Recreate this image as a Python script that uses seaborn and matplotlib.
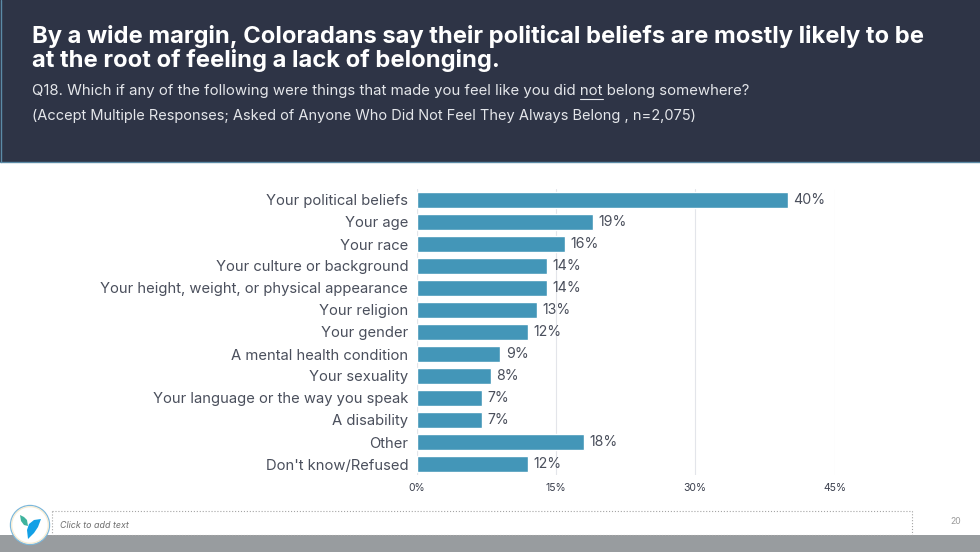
import pandas as pd
import seaborn as sns
import matplotlib.pyplot as plt
from matplotlib.patches import Rectangle, Circle, Polygon

# Chart data
categories = ["Your political beliefs", "Your age", "Your race", "Your culture or background",
              "Your height, weight, or physical appearance", "Your religion", "Your gender",
              "A mental health condition", "Your sexuality", "Your language or the way you speak",
              "A disability", "Other", "Don't know/Refused"]
values = [40, 19, 16, 14, 14, 13, 12, 9, 8, 7, 7, 18, 12]
x_ticks = [0, 15, 30, 45]

title_lines = ["By a wide margin, Coloradans say their political beliefs are mostly likely to be",
               "at the root of feeling a lack of belonging."]
question_start = "Q18. Which if any of the following were things that made you feel like you did "
question_end = "not belong somewhere?"
note = "(Accept Multiple Responses; Asked of Anyone Who Did Not Feel They Always Belong , n=2,075)"

sns.set_theme(style="white")
plt.rcParams['font.family'] = ['Inter', 'DejaVu Sans']

W, H = 980, 552
fig = plt.figure(figsize=(W / 100, H / 100), dpi=100, facecolor="white")

# Full-slide overlay in pixel coordinates for the slide furniture
bg = fig.add_axes([0, 0, 1, 1], zorder=0)
bg.set_xlim(0, W)
bg.set_ylim(H, 0)
bg.axis("off")
bg.add_patch(Rectangle((0, 0), W, 162, fc="#2e3446", ec="none"))
bg.plot([0, W], [162, 162], color="#5b8aa6", lw=1)
bg.plot([0.5, 0.5], [0, 162], color="#5b8aa6", lw=1)
bg.add_patch(Rectangle((0, 535), W, 17, fc="#989c9f", ec="none"))

bg.text(32, 36, title_lines[0], color="white", fontsize=17.1, fontweight="bold", va="center")
bg.text(32, 60, title_lines[1], color="white", fontsize=17.1, fontweight="bold", va="center")
q_text = bg.text(32, 90.5, question_start + question_end, color="#e4e6ea", fontsize=10.75, va="center")
bg.text(32, 116, note, color="#e4e6ea", fontsize=10.5, va="center")

# Underline the word "not" by measuring the text before it
renderer = fig.canvas.get_renderer()
probe = bg.text(32, 90.5, question_start.replace(" ", "\u00a0"), fontsize=10.75, va="center")
not_start = probe.get_window_extent(renderer).x1
probe.set_text("not")
not_width = probe.get_window_extent(renderer).width
probe.remove()
bg.plot([not_start, not_start + not_width], [99, 99], color="#e4e6ea", lw=0.8)

# Footer placeholder and page number
bg.plot([52, 912, 912], [511, 511, 535], color="#a5a5a5", lw=0.8, ls=":")
bg.plot([52, 52], [511, 535], color="#a5a5a5", lw=0.8, ls=":")
bg.plot([52, 912], [535, 535], color="#a5a5a5", lw=0.8, ls=":")
bg.text(60, 525, "Click to add text", color="#6f6f6f", fontsize=6.4, style="italic", va="center")
bg.text(956, 521, "20", color="#9a9a9a", fontsize=6.2, ha="center", va="center")

# Logo
bg.add_patch(Circle((30, 525), 19.5, fc="white", ec="#7db8dc", lw=1, zorder=3))
bg.add_patch(Circle((30, 525), 18.3, fc="none", ec="#f6ecd2", lw=0.9, zorder=3))
bg.add_patch(Polygon([(41, 519), (34, 520), (29, 524), (27, 530), (28, 539), (34, 533), (38, 527)],
                     fc="#12a0e6", ec="none", zorder=4))
bg.add_patch(Polygon([(20, 515), (21, 521), (24, 525), (28, 526), (27, 520), (24, 517)],
                     fc="#3fb39d", ec="none", zorder=4))

# Bar chart
df = pd.DataFrame({"category": categories, "value": values})
ax = fig.add_axes([416.5 / W, 1 - 475 / H, 418 / W, 286 / H], zorder=1)
ax.patch.set_alpha(0)
sns.barplot(data=df, x="value", y="category", color="#4396b8", saturation=1, width=0.7, ax=ax)
ax.set_xlim(0, 45)
ax.set_xticks(x_ticks)
ax.set_xticklabels([f"{t}%" for t in x_ticks], fontsize=7.5, color="#3a3f4d")
ax.tick_params(axis="x", length=0, pad=6)
ax.tick_params(axis="y", length=0, pad=6, labelsize=10.65, labelcolor="#4a4f5c")
ax.set_xlabel("")
ax.set_ylabel("")
ax.grid(axis="x", color="#e3e5ea", lw=0.8)
ax.set_axisbelow(True)
sns.despine(ax=ax, left=True, bottom=True, top=True, right=True)
ax.axvline(0, color="#d9dbe0", lw=0.8, zorder=0)

for container in ax.containers:
    ax.bar_label(container, fmt="%d%%", padding=4, fontsize=10.2, color="#4a4f5c")

fig.savefig("out.png", dpi=100)
